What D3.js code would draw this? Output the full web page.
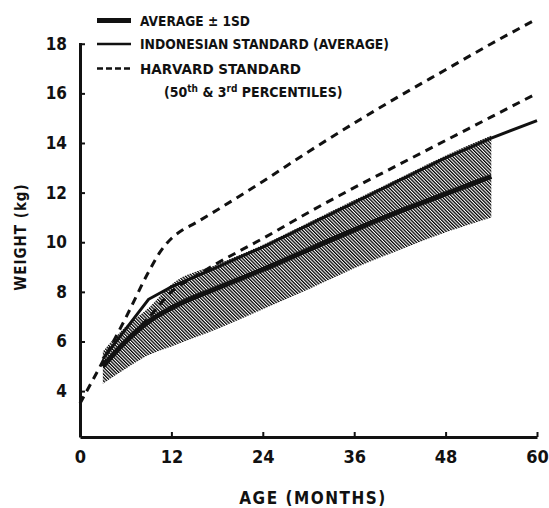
<!DOCTYPE html>
<html>
<head>
<meta charset="utf-8">
<script src="https://cdn.jsdelivr.net/npm/d3@7"></script>
<style>
body { margin: 0; background: #fff; }
text { font-family: "DejaVu Sans Condensed", "DejaVu Sans", sans-serif; font-weight: bold; fill: #111; }
</style>
</head>
<body>
<script>
var width = 549,
    height = 508;

// study group, average and +/- 1SD
var months = [3, 6, 9, 12, 18, 24, 30, 36, 42, 48, 54];
var average = [5.0, 6.0, 6.8, 7.35, 8.15, 8.9, 9.7, 10.5, 11.25, 11.95, 12.65];
var plusSD = [5.6, 6.6, 7.35, 8.3, 9.1, 9.9, 10.8, 11.7, 12.6, 13.5, 14.3];
var minusSD = [4.3, 4.9, 5.45, 5.8, 6.5, 7.3, 8.1, 8.95, 9.7, 10.4, 11.0];

// indonesian standard (average)
var indoMonths = [3, 9, 12, 18, 24, 30, 36, 42, 48, 54, 60];
var indonesian = [5.3, 7.7, 8.2, 9.0, 9.8, 10.7, 11.6, 12.5, 13.4, 14.2, 14.9];

// harvard standard, 50th and 3rd percentiles
var harv50Months = [0, 3, 6, 9, 10.5, 12, 13.5, 15, 18, 24, 30, 36, 42, 48, 54, 60];
var harvard50 = [3.5, 5.2, 6.95, 8.8, 9.6, 10.15, 10.5, 10.75, 11.3, 12.45, 13.65, 14.8, 15.9, 16.95, 18.0, 19.0];
var harv3Months = [3, 6, 9, 12, 15, 18, 24, 30, 36, 42, 48, 54, 60];
var harvard3 = [5.0, 6.0, 6.95, 8.0, 8.6, 9.15, 10.15, 11.2, 12.2, 13.15, 14.1, 15.05, 16.0];

var xTicks = [0, 12, 24, 36, 48, 60];
var yTicks = [4, 6, 8, 10, 12, 14, 16, 18];

var x = d3.scaleLinear().domain([0, 60]).range([80, 537]);
var y = d3.scaleLinear().domain([2.15, 18.05]).range([437, 42.5]);

var svg = d3.select('body').append('svg')
    .attr('xmlns', 'http://www.w3.org/2000/svg')
    .attr('width', width)
    .attr('height', height);

// hatch pattern for the +/- 1SD band
var pat = svg.append('defs').append('pattern')
    .attr('id', 'hatch')
    .attr('patternUnits', 'userSpaceOnUse')
    .attr('width', 2.4)
    .attr('height', 10)
    .attr('patternTransform', 'rotate(-45)');
pat.append('line')
    .attr('x1', 0.65).attr('x2', 0.65)
    .attr('y1', -1).attr('y2', 11)
    .style('stroke', '#000')
    .style('stroke-width', 1.3);

function pts(xs, ys) {
    return xs.map(function (d, i) { return [d, ys[i]]; });
}

var band = months.map(function (d, i) {
    return {m: d, lo: minusSD[i], hi: plusSD[i]};
});

svg.append('path')
    .datum(band)
    .attr('d', d3.area()
        .curve(d3.curveMonotoneX)
        .x(function (d) { return x(d.m); })
        .y0(function (d) { return y(d.lo); })
        .y1(function (d) { return y(d.hi); }))
    .style('fill', 'url(#hatch)');

var line = d3.line()
    .curve(d3.curveMonotoneX)
    .x(function (d) { return x(d[0]); })
    .y(function (d) { return y(d[1]); });

// harvard dashed
[[harv50Months, harvard50], [harv3Months, harvard3]].forEach(function (s) {
    svg.append('path')
        .datum(pts(s[0], s[1]))
        .attr('d', line)
        .style('fill', 'none')
        .style('stroke', '#111')
        .style('stroke-width', 3)
        .style('stroke-dasharray', '8,6');
});

// indonesian
svg.append('path')
    .datum(pts(indoMonths, indonesian))
    .attr('d', line.curve(d3.curveLinear))
    .style('fill', 'none')
    .style('stroke', '#111')
    .style('stroke-width', 3);
line.curve(d3.curveMonotoneX);

// average
svg.append('path')
    .datum(pts(months, average))
    .attr('d', line)
    .style('fill', 'none')
    .style('stroke', '#111')
    .style('stroke-width', 5);

// axes
var xAxis = svg.append('g')
    .attr('transform', 'translate(0,437)')
    .call(d3.axisBottom(x).tickValues(xTicks).tickSize(-5).tickSizeOuter(0).tickPadding(13));
var yAxis = svg.append('g')
    .attr('transform', 'translate(80,0)')
    .call(d3.axisLeft(y).tickValues(yTicks).tickSize(-5).tickSizeOuter(0).tickPadding(13));

[xAxis, yAxis].forEach(function (a) {
    a.select('.domain').style('stroke', '#111').style('stroke-width', 3);
    a.selectAll('.tick line').style('stroke', '#111').style('stroke-width', 2);
    a.selectAll('.tick text')
        .style('font-family', '"DejaVu Sans Condensed", sans-serif')
        .style('font-weight', 'bold')
        .style('fill', '#111');
});
xAxis.selectAll('.tick text').style('font-size', '18px');
yAxis.selectAll('.tick text').style('font-size', '17px');

// axis titles
svg.append('text')
    .attr('x', 313)
    .attr('y', 504)
    .attr('text-anchor', 'middle')
    .style('font-size', '17px')
    .style('letter-spacing', '1.5px')
    .text('AGE (MONTHS)');

svg.append('text')
    .attr('transform', 'translate(26,237) rotate(-90)')
    .attr('text-anchor', 'middle')
    .style('font-size', '15px')
    .style('letter-spacing', '1px')
    .text('WEIGHT (kg)');

// legend
var legend = [
    {label: 'AVERAGE ± 1SD', w: 5, dash: null, y: 20.5, len: 110},
    {label: 'INDONESIAN STANDARD (AVERAGE)', w: 2.5, dash: null, y: 44, len: 249},
    {label: 'HARVARD STANDARD', w: 2.5, dash: '6,3', y: 68.5, len: 161}
];
legend.forEach(function (d) {
    svg.append('line')
        .attr('x1', 97).attr('x2', 131)
        .attr('y1', d.y).attr('y2', d.y)
        .style('stroke', '#111')
        .style('stroke-width', d.w)
        .style('stroke-dasharray', d.dash);
    svg.append('text')
        .attr('x', 140)
        .attr('y', d.y + 5)
        .attr('textLength', d.len)
        .attr('lengthAdjust', 'spacingAndGlyphs')
        .style('font-size', '14px')
        .text(d.label);
});
var pct = svg.append('text')
    .attr('x', 164)
    .attr('y', 97)
    .style('font-size', '14px');
pct.append('tspan').text('(50');
pct.append('tspan').attr('dy', -5).style('font-size', '10px').text('th');
pct.append('tspan').attr('dy', 5).text(' & 3');
pct.append('tspan').attr('dy', -5).style('font-size', '10px').text('rd');
pct.append('tspan').attr('dy', 5).text(' PERCENTILES)');
</script>
</body>
</html>
